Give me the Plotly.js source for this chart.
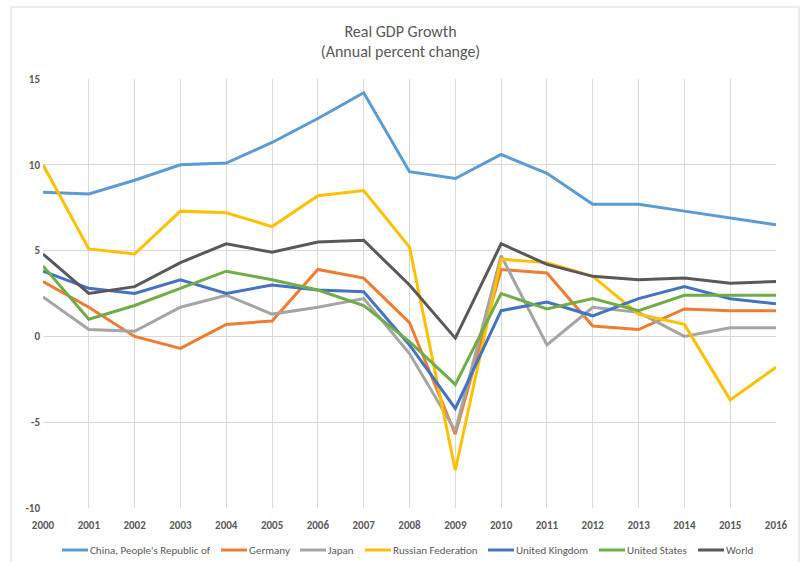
<!DOCTYPE html>
<html>
<head>
<meta charset="utf-8">
<script src="https://cdn.plot.ly/plotly-3.0.1.min.js"></script>
<style>html,body{margin:0;padding:0;background:#fff;}#chart{width:801px;height:562px;}</style>
</head>
<body>
<div id="chart"></div>
<script>
const years = [2000,2001,2002,2003,2004,2005,2006,2007,2008,2009,2010,2011,2012,2013,2014,2015,2016];
const china   = [8.4, 8.3, 9.1, 10.0, 10.1, 11.3, 12.7, 14.2, 9.6, 9.2, 10.6, 9.5, 7.7, 7.7, 7.3, 6.9, 6.5];
const germany = [3.2, 1.7, 0.0, -0.7, 0.7, 0.9, 3.9, 3.4, 0.8, -5.7, 3.9, 3.7, 0.6, 0.4, 1.6, 1.5, 1.5];
const japan   = [2.3, 0.4, 0.3, 1.7, 2.4, 1.3, 1.7, 2.2, -1.0, -5.5, 4.7, -0.5, 1.7, 1.4, 0.0, 0.5, 0.5];
const russia  = [10.0, 5.1, 4.8, 7.3, 7.2, 6.4, 8.2, 8.5, 5.2, -7.8, 4.5, 4.3, 3.5, 1.3, 0.7, -3.7, -1.8];
const uk      = [3.8, 2.8, 2.5, 3.3, 2.5, 3.0, 2.7, 2.6, -0.5, -4.2, 1.5, 2.0, 1.2, 2.2, 2.9, 2.2, 1.9];
const us      = [4.1, 1.0, 1.8, 2.8, 3.8, 3.3, 2.7, 1.8, -0.3, -2.8, 2.5, 1.6, 2.2, 1.5, 2.4, 2.4, 2.4];
const world   = [4.8, 2.5, 2.9, 4.3, 5.4, 4.9, 5.5, 5.6, 3.0, -0.1, 5.4, 4.2, 3.5, 3.3, 3.4, 3.1, 3.2];
const seriesNames = ["China, People's Republic of","Germany","Japan","Russian Federation","United Kingdom","United States","World"];
const seriesData = [china, germany, japan, russia, uk, us, world];
const colors = ["#5B9BD5","#ED7D31","#A5A5A5","#FFC000","#4472C4","#70AD47","#595959"];
const yTicks = [-10,-5,0,5,10,15];

const W = 801, H = 562;
const M = {l:43, r:25, t:79, b:54};
const pw = W - M.l - M.r, ph = H - M.t - M.b;
const px2x = p => (p - M.l) / pw;
const py2y = p => (H - M.b - p) / ph;

const traces = seriesData.map((d,i)=>({
  x: years, y: d, name: seriesNames[i], type:'scatter', mode:'lines',
  line:{color:colors[i], width:3}, showlegend:false
}));

const font = "Carlito, 'Liberation Sans Narrow', 'Open Sans', Arial, sans-serif";

// custom legend (one row, Excel style)
const legStarts = [62, 221, 300, 365, 488, 599, 698];
const legSymW = 26, legY = 550;
const shapes = [{type:'rect', xref:'paper', yref:'paper', x0:px2x(11), x1:px2x(799), y0:py2y(600), y1:py2y(7),
           line:{color:'#d9d9d9', width:1}, fillcolor:'rgba(0,0,0,0)', layer:'below'}];
const annotations = [];
seriesNames.forEach((n,i)=>{
  shapes.push({type:'line', xref:'paper', yref:'paper', x0:px2x(legStarts[i]), x1:px2x(legStarts[i]+legSymW),
    y0:py2y(legY), y1:py2y(legY), line:{color:colors[i], width:3}});
  annotations.push({xref:'paper', yref:'paper', x:px2x(legStarts[i]+legSymW+1), y:py2y(legY),
    xanchor:'left', yanchor:'middle', text:n, showarrow:false, xshift:0,
    font:{size:11, color:'#595959', family:font}, borderpad:0});
});

const layout = {
  width:W, height:H,
  margin:M,
  paper_bgcolor:'#fff', plot_bgcolor:'#fff',
  font:{family:font, color:'#595959'},
  title:{text:'Real GDP Growth<br>(Annual percent change)', x:0.5, xanchor:'center', y:0.935, yanchor:'top',
         font:{size:16, color:'#595959', family:font}},
  xaxis:{range:[2000,2016], tickmode:'array', tickvals:years, ticktext:years.map(String),
         showgrid:true, gridcolor:'#d9d9d9', gridwidth:1, zeroline:false, showline:false,
         tickfont:{size:11, color:'#595959', family:font, weight:'bold'}, ticks:'', ticklen:0,
         ticklabelstandoff:9, fixedrange:true},
  yaxis:{range:[-10,15], tickmode:'array', tickvals:yTicks, ticktext:yTicks.map(String),
         showgrid:true, gridcolor:'#d9d9d9', gridwidth:1, zeroline:false, showline:false,
         tickfont:{size:11, color:'#595959', family:font, weight:'bold'}, ticks:'', ticklen:0,
         ticklabelstandoff:2, fixedrange:true},
  showlegend:false,
  shapes:shapes,
  annotations:annotations
};
Plotly.newPlot('chart', traces, layout, {displayModeBar:false, staticPlot:true});
</script>
</body>
</html>
